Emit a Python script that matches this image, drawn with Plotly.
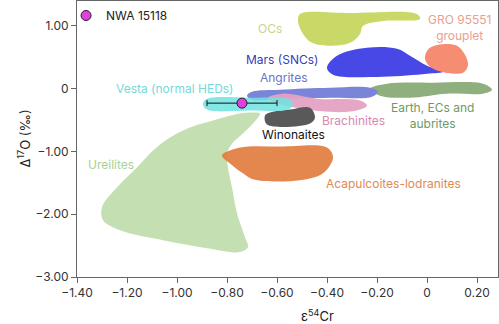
import plotly.graph_objects as go

# ---- data (ε54Cr, Δ17O) outlines of each meteorite group field ----
ureilites_x = [-0.696, -0.748, -0.856, -0.948, -1.028, -1.096, -1.16, -1.24, -1.30, -1.296, -1.228, -1.056,
               -0.88, -0.748, -0.716, -0.728, -0.76, -0.78, -0.796, -0.80, -0.776, -0.736, -0.696, -0.668]
ureilites_y = [-0.381, -0.397, -0.508, -0.619, -0.778, -0.984, -1.254, -1.571, -1.889, -2.095, -2.254, -2.413,
               -2.54, -2.603, -2.524, -2.365, -1.984, -1.571, -1.254, -1.032, -0.857, -0.714, -0.556, -0.397]

acap_x = [-0.82, -0.748, -0.588, -0.40, -0.376, -0.416, -0.508, -0.696, -0.736, -0.788]
acap_y = [-1.063, -0.937, -0.921, -0.937, -1.095, -1.349, -1.460, -1.444, -1.349, -1.190]

ocs_x = [-0.508, -0.308, -0.04, -0.028, -0.176, -0.256, -0.268, -0.308, -0.388, -0.46, -0.496, -0.516]
ocs_y = [1.190, 1.206, 1.190, 1.111, 1.079, 1.0, 0.873, 0.730, 0.683, 0.730, 0.873, 1.079]

mars_x = [-0.40, -0.36, -0.24, -0.12, -0.068, 0.0, 0.064, 0.0, -0.176, -0.376]
mars_y = [0.333, 0.524, 0.651, 0.635, 0.524, 0.365, 0.270, 0.238, 0.190, 0.222]

gro_x = [0.012, 0.12, 0.164, 0.144, 0.024, -0.008]
gro_y = [0.651, 0.683, 0.397, 0.254, 0.317, 0.476]

earth_x = [-0.228, -0.16, 0.024, 0.224, 0.26, 0.224, 0.08, -0.068, -0.188]
earth_y = [0.0, 0.079, 0.095, 0.079, -0.016, -0.079, -0.079, -0.143, -0.111]

angrites_x = [-0.72, -0.70, -0.588, -0.388, -0.228, -0.196, -0.22, -0.388, -0.588, -0.70]
angrites_y = [-0.111, -0.048, -0.016, 0.016, 0.016, -0.048, -0.127, -0.143, -0.159, -0.175]

brach_x = [-0.636, -0.576, -0.44, -0.268, -0.24, -0.308, -0.508, -0.616]
brach_y = [-0.143, -0.079, -0.159, -0.190, -0.270, -0.365, -0.317, -0.206]

winon_x = [-0.628, -0.548, -0.468, -0.448, -0.468, -0.64, -0.648]
winon_y = [-0.381, -0.333, -0.302, -0.460, -0.556, -0.571, -0.429]

vesta_x = [-0.88, -0.708, -0.548, -0.536, -0.556, -0.708, -0.88, -0.896]
vesta_y = [-0.159, -0.143, -0.175, -0.254, -0.333, -0.349, -0.333, -0.238]

nwa_x = [-0.74]
nwa_y = [-0.23]
nwa_err = [0.14]

x_ticks = [-1.4, -1.2, -1.0, -0.8, -0.6, -0.4, -0.2, 0.0, 0.2]
x_ticktext = ["\u22121.40", "\u22121.20", "\u22121.00", "\u22120.80", "\u22120.60", "\u22120.40", "\u22120.20", "0", "0.20"]
y_ticks = [1.0, 0.0, -1.0, -2.0, -3.0]
y_ticktext = ["1.00", "0", "\u22121.00", "\u22122.00", "\u22123.00"]

FONT = "Inter"

fig = go.Figure()


def field(xs, ys, color, opacity=1.0):
    fig.add_trace(go.Scatter(
        x=xs + xs[:1], y=ys + ys[:1], mode="lines", fill="toself",
        fillcolor=color, opacity=opacity,
        line=dict(width=0, shape="spline", smoothing=1.0, color=color),
        hoverinfo="skip", showlegend=False))


field(ureilites_x, ureilites_y, "#c4e0b2")
field(acap_x, acap_y, "#e07a3c", 0.9)
field(ocs_x, ocs_y, "#c9d866")
field(mars_x, mars_y, "#4848e6")
field(gro_x, gro_y, "#f68c72")
field(earth_x, earth_y, "#8fb07e")
field(angrites_x, angrites_y, "#7a84d8")
field(brach_x, brach_y, "#e4a2c2", 0.95)
field(winon_x, winon_y, "#595959")
field(vesta_x, vesta_y, "#6fe3e0", 0.85)

fig.add_trace(go.Scatter(
    x=nwa_x, y=nwa_y, mode="markers", name="NWA 15118",
    marker=dict(size=10, color="#e23ee0", line=dict(color="#222", width=1)),
    error_x=dict(type="data", array=nwa_err, color="#111", thickness=1, width=3),
    hoverinfo="skip", showlegend=True))

labels = [
    ("Vesta (normal HEDs)", -1.008, 0.0, "#74d9da"),
    ("Mars (SNCs)", -0.58, 0.46, "#3b3bb8"),
    ("Angrites", -0.576, 0.175, "#6b75c6"),
    ("OCs", -0.628, 0.952, "#c6d48a"),
    ("GRO 95551<br>grouplet", 0.128, 0.968, "#e9a08e"),
    ("Earth, ECs and<br>aubrites", 0.02, -0.43, "#6d9a64"),
    ("Brachinites", -0.296, -0.508, "#d888b2"),
    ("Winonaites", -0.536, -0.730, "#111111"),
    ("Acapulcoites-lodranites", -0.136, -1.508, "#e08a52"),
    ("Ureilites", -1.264, -1.206, "#a9d194"),
]
for txt, lx, ly, col in labels:
    fig.add_annotation(x=lx, y=ly, text=txt, showarrow=False, xref="x", yref="y",
                       font=dict(family=FONT, size=12, color=col), align="center")

fig.add_annotation(x=0.572, y=-0.138, xref="paper", yref="paper", yanchor="middle",
                   text="\u03b5<sup>54</sup>Cr",
                   showarrow=False, font=dict(family=FONT, size=13, color="#222"))
fig.add_annotation(x=-0.152, y=0.5, xref="paper", yref="paper", text="\u0394<sup>17</sup>O (\u2030)",
                   textangle=-90, showarrow=False, font=dict(family=FONT, size=13, color="#222"))

axis_common = dict(showgrid=False, zeroline=False, showline=True, linecolor="#666", linewidth=1,
                   mirror=True, ticks="outside", ticklen=5, tickcolor="#666",
                   tickfont=dict(family=FONT, size=12, color="#333"))
fig.update_layout(
    width=499, height=324,
    margin=dict(l=77, r=1, t=1, b=47),
    plot_bgcolor="white", paper_bgcolor="white",
    xaxis=dict(range=[-1.4, 0.284], tickvals=x_ticks, ticktext=x_ticktext, **axis_common),
    yaxis=dict(range=[-3.0, 1.397], tickvals=y_ticks, ticktext=y_ticktext, **axis_common),
    legend=dict(x=-0.026, y=1.0, xanchor="left", yanchor="top", bgcolor="rgba(0,0,0,0)",
                font=dict(family=FONT, size=12, color="#222"), itemwidth=30),
    font=dict(family=FONT),
)

fig.write_html("out.html")
